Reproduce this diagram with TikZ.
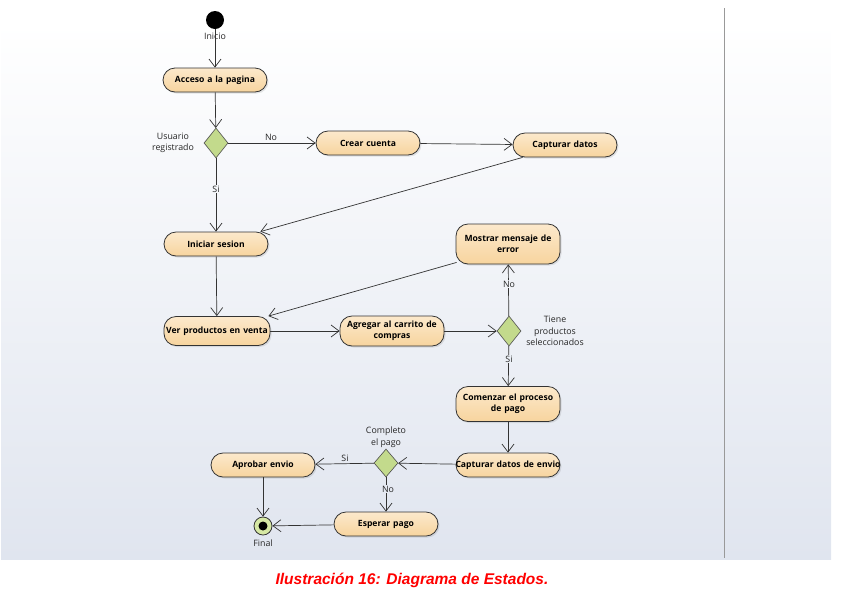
\documentclass[tikz,border=0pt]{standalone}
\usepackage{fontspec}
\setmainfont{Open Sans}
\newfontfamily\captionfont{Liberation Sans}
\usetikzlibrary{arrows.meta}
\usetikzlibrary{shapes.geometric}
\usetikzlibrary{shadows}
\definecolor{panelbottom}{HTML}{E0E5EF}
\definecolor{boxtop}{HTML}{FCE9CC}
\definecolor{boxbottom}{HTML}{F7D49E}
\definecolor{choicefill}{HTML}{C3DA8C}
\definecolor{finalfill}{HTML}{D6E8A4}
\tikzset{
  activity/.style={draw=black!80, line width=0.8pt, rounded corners=12pt,
    top color=boxtop, bottom color=boxbottom, minimum width=104pt,
    minimum height=24pt, text width=100pt, align=center, inner sep=1pt,
    font=\fontsize{8.6}{11.5}\selectfont\bfseries,
    drop shadow={opacity=0.2, shadow xshift=1.5pt, shadow yshift=-1.5pt}},
  choice/.style={diamond, draw=black!70, line width=0.6pt, fill=choicefill,
    minimum width=24pt, minimum height=30pt, inner sep=0pt},
  note/.style={font=\fontsize{8.8}{11.5}\selectfont, text=black!85, align=center},
  guard/.style={note, inner sep=1pt},
  flow/.style={line width=0.7pt, draw=black!80,
    arrows={-Straight Barb[length=8pt, width=12pt]}}
}

\begin{document}
\begin{tikzpicture}[x=1pt, y=-1pt]
        \useasboundingbox (0,0) rectangle (848,598);
        % Draw the background panel and the divider
        \shade [top color=white, bottom color=panelbottom] (1,22) rectangle (831,559);
        \draw [line width=1pt, black!40] (724,8) -- (724,558);
        % Start and end states
        \node (inicio) [circle, fill=black, minimum size=18pt, inner sep=0pt] at (215,20) {};
        \node (final) [circle, draw=black!80, line width=0.8pt, fill=finalfill, minimum size=18pt, inner sep=0pt] at (263,526) {};
        \fill (final.center) circle (4.5pt);
        % Activities
        \node (acceso) [activity] at (215,80) {Acceso a la pagina};
        \node (crear) [activity] at (368,143) {Crear cuenta};
        \node (capturar) [activity] at (565,145) {Capturar datos};
        \node (iniciar) [activity] at (216,244) {Iniciar sesion};
        \node (mostrar) [activity, minimum height=40pt] at (508,244) {Mostrar mensaje de\\error};
        \node (ver) [activity, minimum width=106pt, minimum height=29pt] at (217,331) {\makebox[100pt]{Ver productos en venta}};
        \node (agregar) [activity, minimum height=30pt] at (392,331) {Agregar al carrito de\\compras};
        \node (comenzar) [activity, minimum height=35pt] at (508,404) {Comenzar el proceso\\de pago};
        \node (envio) [activity] at (508,465) {\makebox[100pt]{Capturar datos de envio}};
        \node (aprobar) [activity] at (263,465) {Aprobar envio};
        \node (esperar) [activity] at (386,524) {Esperar pago};
        % Decisions
        \node (registrado) [choice] at (216,143) {};
        \node (seleccion) [choice] at (509,331) {};
        \node (pago) [choice, minimum height=28pt] at (386,463) {};
        % Labels of the states and decisions
        \node (tinicio) [note] at (215,36) {Inicio};
        \node (tfinal) [note] at (263,543) {Final};
        \node (tregistrado) [note] at (173,143) {Usuario\\registrado};
        \node (tseleccion) [note] at (555,331) {Tiene\\productos\\seleccionados};
        \node (tpago) [note] at (386,437) {Completo\\el pago};
        % Transitions
        \draw [flow] (inicio) -- (acceso);
        \draw [flow] (acceso) -- (registrado);
        \draw [flow] (registrado) -- (crear);
        \draw [flow] (crear) -- (capturar);
        \draw [flow] (registrado) -- (iniciar);
        \draw [flow] ([xshift=10pt]capturar.south west) -- ([xshift=-8pt]iniciar.north east);
        \draw [flow] (iniciar) -- (ver);
        \draw [flow] (ver) -- (agregar);
        \draw [flow] (agregar) -- (seleccion);
        \draw [flow] (seleccion) -- (mostrar);
        \draw [flow] ([xshift=1pt, yshift=2pt]mostrar.south west) -- ([xshift=-2pt]ver.north east);
        \draw [flow] (seleccion) -- (comenzar);
        \draw [flow] (comenzar) -- (envio);
        \draw [flow] (envio) -- (pago);
        \draw [flow] (pago) -- (aprobar);
        \draw [flow] (pago) -- (esperar);
        \draw [flow] (aprobar) -- (final);
        \draw [flow] (esperar) -- (final);
        % Guards on the transitions
        \node (gno1) [note] at (271,137) {No};
        \node (gsi1) [guard, fill=panelbottom!31!white] at (216,189) {Si};
        \node (gno2) [guard, fill=panelbottom!49!white] at (509,284) {No};
        \node (gsi2) [guard, fill=panelbottom!63!white] at (509,359) {Si};
        \node (gsi3) [note] at (345,458) {Si};
        \node (gno3) [guard, fill=panelbottom!87!white] at (388,489) {No};
        % Caption
        \node (caption) [text=red, font=\captionfont\fontsize{15.5}{18}\selectfont\bfseries\itshape] at (412,580) {Ilustración 16: Diagrama de Estados.};
      \end{tikzpicture}
\end{document}
